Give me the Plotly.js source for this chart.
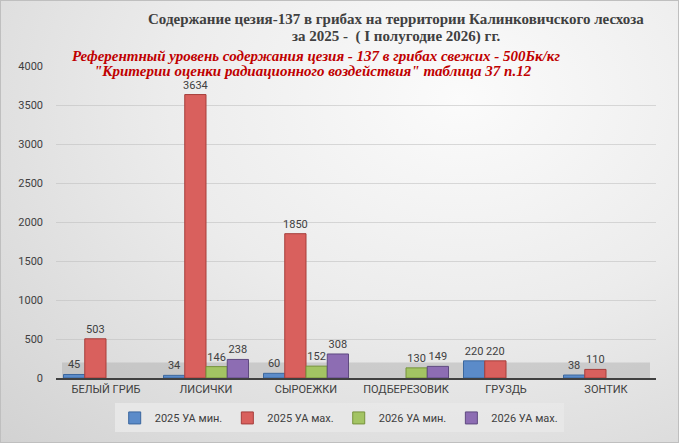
<!DOCTYPE html>
<html>
<head>
<meta charset="utf-8">
<script src="https://cdn.plot.ly/plotly-3.0.1.min.js"></script>
<style>
  html, body { margin: 0; padding: 0; }
  #chart {
    width: 679px; height: 443px; box-sizing: border-box;
    border: 1px solid #bfbfbf;
    background: radial-gradient(ellipse at 68% 22%, #fbfbfb 0%, #ececec 45%, #d2d2d2 100%);
  }
</style>
</head>
<body>
<div id="chart"></div>
<script>
// categories and series
var mushrooms = ['БЕЛЫЙ ГРИБ', 'ЛИСИЧКИ', 'СЫРОЕЖКИ', 'ПОДБЕРЕЗОВИК', 'ГРУЗДЬ', 'ЗОНТИК'];
var min2025 = [45, 34, 60, null, 220, 38];
var max2025 = [503, 3634, 1850, null, 220, 110];
var min2026 = [null, 146, 152, 130, null, null];
var max2026 = [null, 238, 308, 149, null, null];

var seriesNames = ['2025 УА мин.', '2025 УА мах.', '2026 УА мин.', '2026 УА мах.'];
var fills = ['#5B8BC9', '#D9605D', '#A3C463', '#8D6DB3'];
var edges = ['#3B679E', '#A63E3B', '#76933C', '#5F4A80'];

var labelFont = {family: 'Roboto, "Open Sans", sans-serif', size: 11, color: '#404040'};
var serif = '"Liberation Serif", "DejaVu Serif", serif';

function makeTrace(vals, i) {
    return {
        type: 'bar',
        x: mushrooms,
        y: vals,
        name: seriesNames[i],
        text: vals.map(function (v) { return v === null ? '' : String(v); }),
        textposition: 'outside',
        constraintext: 'none',
        textfont: labelFont,
        cliponaxis: false,
        marker: {color: fills[i], line: {color: edges[i], width: 1}},
        hoverinfo: 'x+y+name'
    };
}

var data = [makeTrace(min2025, 0), makeTrace(max2025, 1), makeTrace(min2026, 2), makeTrace(max2026, 3)];

// plot area spans 55..655 px across and 65..377 px down
var layout = {
    width: 679,
    height: 443,
    margin: {l: 55, r: 24, t: 65, b: 66},
    paper_bgcolor: 'rgba(0,0,0,0)',
    plot_bgcolor: 'rgba(0,0,0,0)',
    barmode: 'group',
    bargap: 0.15,
    bargroupgap: 0,
    xaxis: {
        showgrid: false,
        showline: true,
        linecolor: '#404040',
        linewidth: 2,
        tickfont: labelFont,
        ticks: ''
    },
    yaxis: {
        range: [0, 4000],
        dtick: 500,
        showgrid: true,
        gridcolor: 'rgba(190,190,190,0.55)',
        zeroline: false,
        showline: false,
        tickfont: labelFont,
        ticklabelstandoff: 12
    },
    legend: {
        orientation: 'h',
        x: 0.472, xanchor: 'center',
        y: -0.128, yanchor: 'middle',
        bgcolor: 'rgba(232,232,232,0.9)',
        font: labelFont,
        itemwidth: 30,
        traceorder: 'normal'
    },
    shapes: [{
        type: 'rect', xref: 'paper', yref: 'paper',
        x0: 0.01, x1: 0.99, y0: 0, y1: 0.05,
        fillcolor: 'rgba(170,170,170,0.45)', line: {width: 0}, layer: 'below'
    }],
    annotations: [{
        text: 'Содержание цезия-137 в грибах на территории Калинковичского лесхоза',
        xref: 'paper', yref: 'paper', x: 0.567, y: 1.151,
        xanchor: 'center', yanchor: 'middle', showarrow: false,
        font: {family: serif, size: 15, color: '#404040', weight: 'bold'}
    }, {
        text: 'за 2025 -  ( I полугодие 2026) гг.',
        xref: 'paper', yref: 'paper', x: 0.567, y: 1.093,
        xanchor: 'center', yanchor: 'middle', showarrow: false,
        font: {family: serif, size: 15, color: '#404040', weight: 'bold'}
    }, {
        text: 'Референтный уровень содержания цезия - 137 в грибах свежих - 500Бк/кг',
        xref: 'paper', yref: 'paper', x: 0.433, y: 1.032,
        xanchor: 'center', yanchor: 'middle', showarrow: false,
        font: {family: serif, size: 15, color: '#C00000', weight: 'bold', style: 'italic'}
    }, {
        text: '"Критерии оценки радиационного воздействия" таблица 37 п.12',
        xref: 'paper', yref: 'paper', x: 0.428, y: 0.984,
        xanchor: 'center', yanchor: 'middle', showarrow: false,
        font: {family: serif, size: 15, color: '#C00000', weight: 'bold', style: 'italic'}
    }]
};

Plotly.newPlot('chart', data, layout, {displayModeBar: false});
</script>
</body>
</html>
